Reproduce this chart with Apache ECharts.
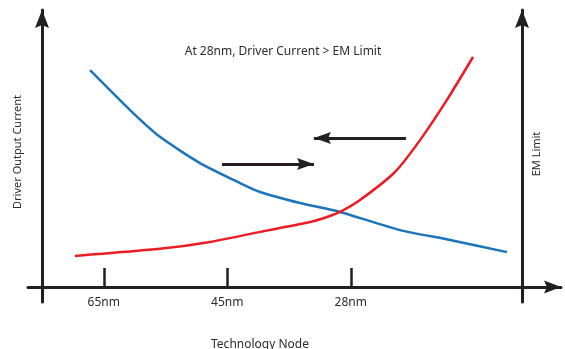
<!DOCTYPE html>
<html>
<head>
<meta charset="utf-8">
<script src="https://cdn.jsdelivr.net/npm/echarts@6/dist/echarts.min.js"></script>
<style>html,body{margin:0;padding:0;background:#fff}#c{width:565px;height:349px}</style>
</head>
<body>
<div id="c"></div>
<script>
// x: position along technology axis, y: relative magnitude
var nodeLabels = ['65nm', '45nm', '28nm'];
var nodePositions = [0.5, 1.5, 2.5];
var driverX = [0.389, 0.713, 0.955, 1.279, 1.603, 1.765, 2.089, 2.413, 2.899, 3.304, 3.765];
var driverY = [72.8, 59.4, 50.4, 41.6, 34.9, 31.9, 28.2, 25.2, 19.1, 15.8, 11.7];
var emX = [0.267, 0.955, 1.360, 1.765, 2.170, 2.308, 2.413, 2.575, 2.858, 3.061, 3.279, 3.490];
var emY = [10.4, 12.8, 15.1, 18.5, 21.8, 23.5, 25.2, 29.2, 38.6, 49.3, 62.8, 77.2];
// annotation arrows: [xStart, xEnd, y]
var arrowRight = [1.457, 2.202, 41.3];
var arrowLeft = [2.947, 2.202, 50.0];
var titleText = 'At 28nm, Driver Current > EM Limit';
var xName = 'Technology Node';
var yNameLeft = 'Driver Output Current';
var yNameRight = 'EM Limit';

var INK = '#231f20';
var TXT = '#2b2b2b';
// arrow head whose tip sits at the centre of its box
function head(w, l) {
  var h = w / 2, c = l * 0.17;
  return 'path://M0,0 L0,0 M0,' + l + ' L' + h + ',' + (2 * l) + ' L0,' + (2 * l - c) + ' L' + (-h) + ',' + (2 * l) + ' Z';
}
function zip(a, b) { return a.map(function (v, i) { return [v, b[i]]; }); }

var chart = echarts.init(document.getElementById('c'), null, {renderer: 'canvas'});
chart.setOption({
  animation: false,
  grid: {left: 28, right: 4, top: 10, bottom: 47},
  xAxis: {
    type: 'value', min: -0.1134, max: 4.2024,
    splitLine: {show: false},
    axisLine: {onZero: true, symbol: ['none', head(13, 17)], symbolSize: [13, 34],
      lineStyle: {color: INK, width: 3}},
    axisTick: {show: true, inside: true, length: 19, customValues: nodePositions,
      lineStyle: {color: INK, width: 2.5}},
    axisLabel: {show: true, customValues: nodePositions, margin: -5,
      color: TXT, fontFamily: 'Noto Sans', fontSize: 12,
      formatter: function (v) {
        for (var i = 0; i < nodePositions.length; i++) if (Math.abs(nodePositions[i] - v) < 1e-6) return nodeLabels[i];
        return '';
      }}
  },
  yAxis: [{
    type: 'value', min: -5.035, max: 92.98, position: 'left',
    splitLine: {show: false}, axisTick: {show: false}, axisLabel: {show: false},
    axisLine: {onZero: true, symbol: ['none', head(14, 18)], symbolSize: [14, 36],
      lineStyle: {color: INK, width: 3}}
  }, {
    type: 'value', min: -5.035, max: 92.98, position: 'right', offset: -39,
    splitLine: {show: false}, axisTick: {show: false}, axisLabel: {show: false},
    axisLine: {show: true, onZero: false, symbol: ['none', head(14, 18)], symbolSize: [14, 36],
      lineStyle: {color: INK, width: 3}}
  }],
  series: [{
    type: 'line', data: zip(driverX, driverY), showSymbol: false, smooth: 0.2,
    lineStyle: {color: '#1b75bc', width: 2.5}, z: 3
  }, {
    type: 'line', data: zip(emX, emY), showSymbol: false, smooth: 0.2,
    lineStyle: {color: '#ed1c24', width: 2.5}, z: 3,
    markLine: {
      silent: true, symbol: ['none', head(12, 17)], symbolSize: [12, 34],
      label: {show: false},
      lineStyle: {color: INK, width: 3, type: 'solid'},
      data: [
        [{coord: [arrowRight[0], arrowRight[2]]}, {coord: [arrowRight[1], arrowRight[2]]}],
        [{coord: [arrowLeft[0], arrowLeft[2]]}, {coord: [arrowLeft[1], arrowLeft[2]]}]
      ]
    }
  }],
  graphic: [
    {type: 'text', x: 283, y: 52, style: {text: titleText, font: '12px "Noto Sans"', fill: TXT, align: 'center', verticalAlign: 'middle'}},
    {type: 'text', x: 260, y: 345, style: {text: xName, font: '12px "Noto Sans"', fill: TXT, align: 'center', verticalAlign: 'middle'}},
    {type: 'text', x: 18, y: 152, rotation: Math.PI / 2, style: {text: yNameLeft, font: '11px "Noto Sans"', fill: TXT, align: 'center', verticalAlign: 'middle'}},
    {type: 'text', x: 537, y: 154, rotation: Math.PI / 2, style: {text: yNameRight, font: '11px "Noto Sans"', fill: TXT, align: 'center', verticalAlign: 'middle'}}
  ]
});
</script>
</body>
</html>
